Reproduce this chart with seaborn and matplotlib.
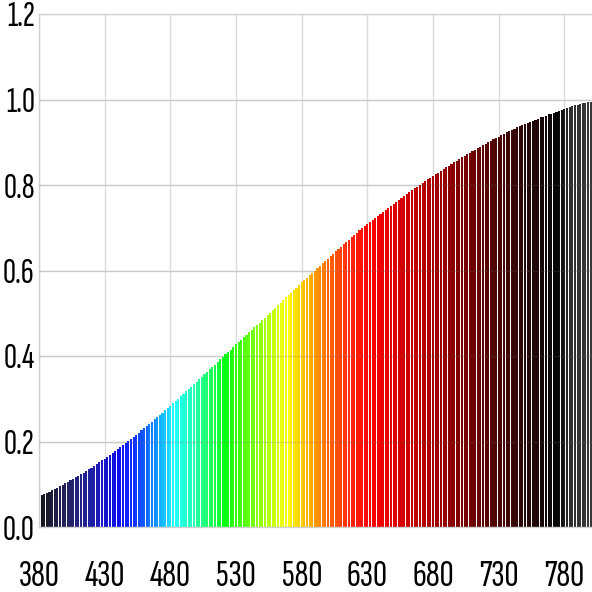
import matplotlib
matplotlib.use('Agg')
import numpy as np
import pandas as pd
import matplotlib.pyplot as plt
from matplotlib.colors import LinearSegmentedColormap, to_hex
import seaborn as sns

# wavelengths (nm), one bar every 2 nm
wavelengths = list(range(380, 801, 2))

# bar heights
values = [
    0.071, 0.074, 0.077, 0.080, 0.083, 0.086, 0.089, 0.092, 0.095, 0.099,
    0.102, 0.105, 0.109, 0.112, 0.116, 0.120, 0.123, 0.127, 0.131, 0.135,
    0.139, 0.143, 0.147, 0.151, 0.156, 0.160, 0.164, 0.169, 0.173, 0.178,
    0.182, 0.187, 0.191, 0.196, 0.201, 0.206, 0.211, 0.216, 0.221, 0.226,
    0.231, 0.236, 0.241, 0.246, 0.252, 0.257, 0.262, 0.267, 0.273, 0.278,
    0.283, 0.289, 0.294, 0.300, 0.306, 0.311, 0.317, 0.323, 0.328, 0.334,
    0.340, 0.346, 0.352, 0.357, 0.363, 0.369, 0.375, 0.380, 0.386, 0.392,
    0.398, 0.404, 0.409, 0.415, 0.421, 0.427, 0.432, 0.438, 0.444, 0.449,
    0.455, 0.461, 0.467, 0.472, 0.478, 0.484, 0.490, 0.496, 0.501, 0.507,
    0.513, 0.519, 0.525, 0.531, 0.537, 0.543, 0.548, 0.554, 0.560, 0.566,
    0.572, 0.578, 0.583, 0.589, 0.595, 0.600, 0.606, 0.611, 0.617, 0.622,
    0.628, 0.634, 0.639, 0.645, 0.650, 0.656, 0.661, 0.667, 0.672, 0.678,
    0.683, 0.688, 0.694, 0.699, 0.704, 0.709, 0.714, 0.719, 0.723, 0.728,
    0.732, 0.737, 0.742, 0.747, 0.751, 0.756, 0.761, 0.765, 0.770, 0.774,
    0.779, 0.783, 0.788, 0.792, 0.796, 0.800, 0.805, 0.809, 0.813, 0.817,
    0.821, 0.825, 0.829, 0.833, 0.837, 0.841, 0.845, 0.849, 0.853, 0.857,
    0.861, 0.865, 0.869, 0.872, 0.876, 0.879, 0.883, 0.887, 0.890, 0.894,
    0.897, 0.900, 0.904, 0.907, 0.910, 0.913, 0.917, 0.920, 0.923, 0.926,
    0.929, 0.932, 0.935, 0.938, 0.940, 0.943, 0.945, 0.948, 0.950, 0.953,
    0.955, 0.958, 0.960, 0.962, 0.965, 0.967, 0.969, 0.971, 0.974, 0.976,
    0.978, 0.980, 0.982, 0.984, 0.986, 0.988, 0.989, 0.991, 0.992, 0.994,
    0.995,
]

x_ticks = [380, 430, 480, 530, 580, 630, 680, 730, 780]
y_ticks = [0.0, 0.2, 0.4, 0.6, 0.8, 1.0, 1.2]

# spectrum colour stops (wavelength, colour)
spectrum_stops = [
    (380, '#16161e'), (400, '#22225e'), (420, '#1e1ea6'), (440, '#0c0cf0'),
    (452, '#1030ff'), (468, '#1090ff'), (483, '#20ffff'), (495, '#20ffc0'),
    (505, '#20ff80'), (522, '#08ff10'), (545, '#80ff10'), (569, '#ffff10'),
    (580, '#ffc808'), (590, '#ffa000'), (600, '#ff6808'), (617, '#ff2810'),
    (632, '#ff0000'), (655, '#d80000'), (680, '#a80000'), (705, '#780000'),
    (730, '#4a0606'), (757, '#200808'), (776, '#060606'), (786, '#303030'),
    (800, '#383838'),
]


def main():
    df = pd.DataFrame({'wl': wavelengths, 'val': values})

    lo, hi = spectrum_stops[0][0], spectrum_stops[-1][0]
    cmap = LinearSegmentedColormap.from_list(
        'spec', [((w - lo) / (hi - lo), c) for w, c in spectrum_stops])
    palette = {w: to_hex(cmap((w - lo) / (hi - lo))) for w in wavelengths}

    sns.set_theme(style='white')
    plt.rcParams['font.family'] = ['Sofia Sans Extra Condensed', 'DejaVu Sans']

    fig = plt.figure(figsize=(5.92, 5.92), dpi=100)
    ax = fig.add_axes([39 / 592, 65 / 592, 553 / 592, 513 / 592])

    sns.barplot(data=df, x='wl', y='val', hue='wl', palette=palette,
                native_scale=True, width=0.8, saturation=1, errorbar=None,
                linewidth=0, legend=False, ax=ax, zorder=2)

    ax.set_xlim(380, 801)
    ax.set_ylim(0, 1.2)
    ax.set_xticks(x_ticks)
    ax.set_yticks(y_ticks)
    ax.set_xticklabels([str(t) for t in x_ticks])
    ax.set_yticklabels([f'{t:.1f}' for t in y_ticks])
    ax.set_xlabel('')
    ax.set_ylabel('')

    ax.grid(True, color='#dcdcdc', linewidth=1.0, zorder=0)
    ax.set_axisbelow(True)
    # faint horizontal lines that also show over the bars
    for t in y_ticks[1:-1]:
        ax.axhline(t, color='#777777', alpha=0.18, linewidth=1.0, zorder=3)

    for side in ['top', 'left', 'bottom']:
        ax.spines[side].set_color('#d0d0d0')
        ax.spines[side].set_linewidth(1.0)
    ax.spines['right'].set_visible(False)

    ax.tick_params(axis='both', length=0, colors='black')
    ax.tick_params(axis='x', pad=24, labelsize=28)
    ax.tick_params(axis='y', pad=3, labelsize=26)

    fig.savefig('out.png', dpi=100, facecolor='white')
    plt.close(fig)


if __name__ == '__main__':
    main()
